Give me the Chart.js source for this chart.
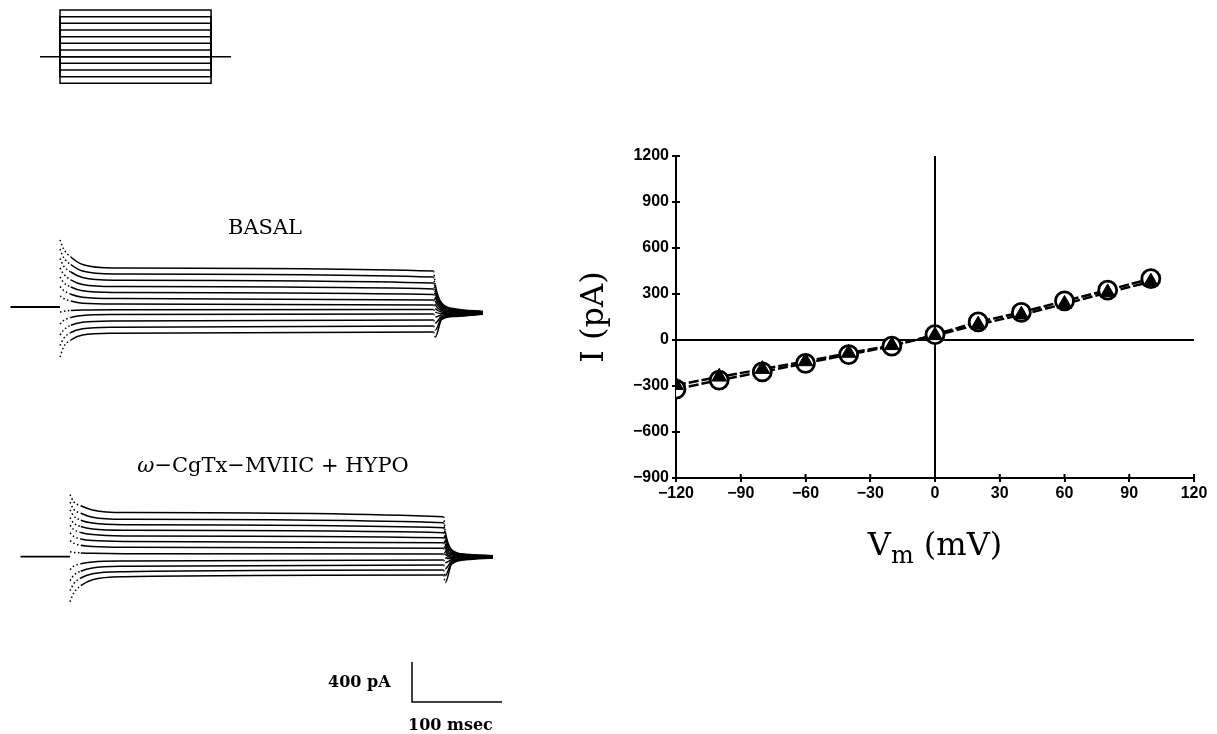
<!DOCTYPE html>
<html>
<head>
<meta charset="utf-8">
<script src="https://cdn.jsdelivr.net/npm/chart.js@4"></script>
<style>
  html, body { margin: 0; padding: 0; background: #fff; }
  body { width: 1217px; height: 734px; position: relative; overflow: hidden; color: #000; font-family: "DejaVu Serif", serif; }
  canvas { position: absolute; }
  .lbl { position: absolute; white-space: nowrap; line-height: 1; }
</style>
</head>
<body>
<canvas id="protocolChart" width="260" height="100" style="left:0;top:0"></canvas>
<canvas id="basalChart" width="520" height="180" style="left:0;top:200px"></canvas>
<canvas id="hypoChart" width="520" height="314" style="left:0;top:420px"></canvas>
<canvas id="ivChart" width="677" height="420" style="left:540px;top:120px"></canvas>

<div class="lbl" style="left:265px;top:217px;transform:translateX(-50%);font-size:21px">BASAL</div>
<div class="lbl" style="left:273px;top:455px;transform:translateX(-50%);font-size:21px"><i>ω</i>−CgTx−MVIIC + HYPO</div>
<div class="lbl" style="left:328px;top:674px;font-size:16px;font-weight:bold">400 pA</div>
<div class="lbl" style="left:408px;top:717px;font-size:16px;font-weight:bold">100 msec</div>
<div class="lbl" style="left:935px;top:528px;transform:translateX(-50%);font-size:32px">V<sub style="font-size:24px;vertical-align:-8px">m</sub> (mV)</div>

<script>
// ---- voltage protocol (mV) ----
const holdingMv = -40;
const stepLevels = [100, 80, 60, 40, 20, 0, -20, -40, -60, -80, -100, -120];

// ---- current traces (pA) ----
const preTimes = [-55, 0];                  // ms, holding before the step
const pulseTimes = [0, 4, 12, 25, 60, 415]; // ms after step onset
const tailTimes = [417, 424, 440, 470];     // ms, after return to holding

const basalPulse = [
  [670, 580, 500, 425, 390, 360],
  [580, 495, 425, 360, 330, 300],
  [485, 410, 350, 295, 268, 240],
  [390, 330, 272, 225, 204, 180],
  [300, 245, 200, 162, 145, 125],
  [205, 165, 128, 98, 85, 70],
  [110, 85, 60, 38, 30, 20],
  [-50, -42, -35, -30, -27, -25],
  [-170, -135, -105, -85, -76, -70],
  [-280, -230, -183, -153, -140, -130],
  [-385, -315, -255, -217, -202, -190],
  [-500, -400, -330, -280, -263, -250]
];
const basalTail = [
  [220, 40, -20, -45],
  [180, 25, -28, -48],
  [140, 10, -35, -52],
  [100, -5, -42, -55],
  [60, -20, -48, -58],
  [20, -35, -55, -60],
  [-15, -50, -62, -62],
  [-50, -65, -68, -64],
  [-100, -80, -75, -66],
  [-160, -95, -82, -68],
  [-230, -110, -88, -70],
  [-300, -125, -95, -72]
];

const hypoPulse = [
  [620, 550, 510, 468, 442, 400],
  [545, 475, 435, 395, 374, 340],
  [468, 408, 365, 336, 319, 290],
  [390, 336, 302, 276, 264, 240],
  [315, 272, 242, 221, 208, 190],
  [238, 204, 178, 161, 153, 140],
  [160, 135, 115, 102, 94, 85],
  [50, 42, 38, 34, 30, 27],
  [-130, -95, -70, -52, -42, -33],
  [-240, -188, -145, -112, -96, -83],
  [-340, -272, -213, -170, -150, -133],
  [-450, -365, -290, -230, -200, -183]
];
const hypoTail = [
  [250, 70, 25, 10],
  [210, 55, 20, 8],
  [170, 42, 15, 6],
  [130, 30, 10, 4],
  [95, 18, 5, 2],
  [60, 6, 0, 0],
  [25, -6, -5, -2],
  [-10, -18, -10, -4],
  [-60, -30, -15, -6],
  [-120, -45, -20, -8],
  [-190, -60, -25, -10],
  [-260, -75, -30, -12]
];

const scaleBarPa = 400;
const scaleBarMs = 100;

// ---- I-V relation ----
const voltages = [-120, -100, -80, -60, -40, -20, 0, 20, 40, 60, 80, 100];
const basalIV = [-320, -262, -208, -152, -95, -40, 35, 118, 180, 255, 325, 400];
const hypoIV  = [-295, -240, -190, -140, -85, -35, 30, 100, 165, 235, 310, 380];
const xTicks = [-120, -90, -60, -30, 0, 30, 60, 90, 120];
const yTicks = [-900, -600, -300, 0, 300, 600, 900, 1200];

// axis range so that value 0 sits at originPx with the given px per unit
function xRange(originPx, ppu, size) {
  return { min: -originPx / ppu, max: (size - originPx) / ppu };
}
function yRange(originPx, ppu, size) {
  return { min: (originPx - size) / ppu, max: originPx / ppu };
}

function bareOptions(xr, yr) {
  return {
    responsive: false,
    animation: false,
    events: [],
    layout: { padding: 0 },
    plugins: { legend: { display: false }, tooltip: { enabled: false } },
    elements: { point: { radius: 0 } },
    scales: {
      x: { type: 'linear', display: false, min: xr.min, max: xr.max },
      y: { type: 'linear', display: false, min: yr.min, max: yr.max }
    }
  };
}

// Chart 1: step protocol
const protocolSets = stepLevels.map(v => ({
  data: [{ x: 0, y: holdingMv }, { x: 0, y: v }, { x: 415, y: v }, { x: 415, y: holdingMv }],
  borderColor: '#000', borderWidth: 1.5, tension: 0
}));
protocolSets.push({
  data: [{ x: preTimes[0], y: holdingMv }, { x: tailTimes[tailTimes.length - 1], y: holdingMv }],
  borderColor: '#000', borderWidth: 1.5
});
new Chart(document.getElementById('protocolChart'), {
  type: 'line',
  data: { datasets: protocolSets },
  options: bareOptions(xRange(60, 0.364, 260), yRange(10 + 100 * 0.3332, 0.3332, 100))
});

// Charts 2 and 3: current families
function traceSets(pulse, tail) {
  const sets = pulse.map((row, k) => ({
    data: pulseTimes.map((t, i) => ({ x: t, y: row[i] }))
      .concat(tailTimes.map((t, i) => ({ x: t, y: tail[k][i] }))),
    borderColor: '#000',
    borderWidth: 1.5,
    cubicInterpolationMode: 'monotone',
    segment: {
      borderDash: ctx => (ctx.p1.parsed.x <= 12 || ctx.p0.parsed.x === 415) ? [1.5, 2.5] : undefined
    }
  }));
  sets.push({
    data: preTimes.map(t => ({ x: t, y: 0 })),
    borderColor: '#000', borderWidth: 1.8
  });
  return sets;
}

new Chart(document.getElementById('basalChart'), {
  type: 'line',
  data: { datasets: traceSets(basalPulse, basalTail) },
  options: bareOptions(xRange(60, 0.9, 520), yRange(107, 0.1, 180))
});

const hypoSets = traceSets(hypoPulse, hypoTail);
const barT = 380, barI = -1453;
hypoSets.push({
  data: [{ x: barT, y: barI + scaleBarPa }, { x: barT, y: barI }, { x: barT + scaleBarMs, y: barI }],
  borderColor: '#000', borderWidth: 1.5, tension: 0
});
new Chart(document.getElementById('hypoChart'), {
  type: 'line',
  data: { datasets: hypoSets },
  options: bareOptions(xRange(70, 0.9, 520), yRange(136.7, 0.1, 314))
});

// Chart 4: I-V curve
const pts = (xs, ys) => xs.map((x, i) => ({ x: x, y: ys[i] }));
const minusLabel = v => v < 0 ? '\u2212' + (-v) : String(v);

// tick marks that cross the axis line
const innerTicks = {
  id: 'innerTicks',
  afterDraw(chart) {
    const { ctx, chartArea, scales } = chart;
    ctx.save();
    ctx.strokeStyle = '#000';
    ctx.lineWidth = 2;
    ctx.beginPath();
    xTicks.forEach(v => {
      const px = scales.x.getPixelForValue(v);
      ctx.moveTo(px, chartArea.bottom);
      ctx.lineTo(px, chartArea.bottom - 4);
    });
    yTicks.forEach(v => {
      const py = scales.y.getPixelForValue(v);
      ctx.moveTo(chartArea.left, py);
      ctx.lineTo(chartArea.left + 4, py);
    });
    ctx.stroke();
    ctx.restore();
  }
};

const tickFont = { family: 'Liberation Sans', weight: 'bold', size: 16 };

new Chart(document.getElementById('ivChart'), {
  type: 'line',
  data: {
    datasets: [
      {
        label: 'omega-CgTx-MVIIC + HYPO',
        data: pts(voltages, hypoIV),
        showLine: false,
        pointStyle: 'triangle',
        pointRadius: 8.5,
        pointBackgroundColor: '#000',
        pointBorderColor: '#000',
        pointBorderWidth: 1
      },
      {
        label: 'BASAL',
        data: pts(voltages, basalIV),
        borderColor: '#000',
        borderWidth: 2.5,
        borderDash: [10, 3],
        pointStyle: 'circle',
        pointRadius: 9,
        pointBackgroundColor: '#fff',
        pointBorderColor: '#000',
        pointBorderWidth: 2.8
      },
      {
        label: 'HYPO line',
        data: pts(voltages, hypoIV),
        borderColor: '#000',
        borderWidth: 2.5,
        borderDash: [10, 3],
        pointRadius: 0
      }
    ]
  },
  options: {
    responsive: false,
    animation: false,
    events: [],
    layout: { padding: { top: 36, right: 23, left: 0, bottom: 0 } },
    plugins: { legend: { display: false }, tooltip: { enabled: false } },
    scales: {
      x: {
        type: 'linear',
        min: -120, max: 120,
        afterBuildTicks: s => { s.ticks = xTicks.map(v => ({ value: v })); },
        afterFit: s => { s.height = 62; },
        border: { color: '#000', width: 2 },
        grid: {
          color: c => (c.tick && c.tick.value === 0) ? '#000' : 'rgba(0,0,0,0)',
          lineWidth: 2,
          tickColor: '#000',
          tickLength: 4,
          tickWidth: 2
        },
        ticks: { color: '#000', font: tickFont, padding: 2, maxRotation: 0, callback: minusLabel }
      },
      y: {
        type: 'linear',
        min: -900, max: 1200,
        afterBuildTicks: s => { s.ticks = yTicks.map(v => ({ value: v })); },
        afterFit: s => { s.width = 136; },
        border: { color: '#000', width: 2 },
        grid: {
          color: c => (c.tick && c.tick.value === 0) ? '#000' : 'rgba(0,0,0,0)',
          lineWidth: 2,
          tickColor: '#000',
          tickLength: 4,
          tickWidth: 2
        },
        ticks: { color: '#000', font: tickFont, padding: 3, callback: minusLabel },
        title: {
          display: true,
          text: 'I (pA)',
          color: '#000',
          font: { family: 'DejaVu Serif', size: 32 },
          padding: { top: 35, bottom: 0 }
        }
      }
    }
  },
  plugins: [innerTicks]
});
</script>
</body>
</html>
